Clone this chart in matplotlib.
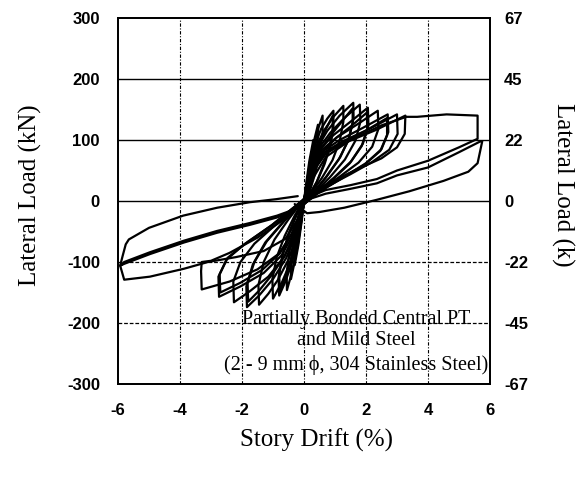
import matplotlib
matplotlib.use("Agg")
import matplotlib.pyplot as plt

plt.rcParams["axes.unicode_minus"] = False

# ===============================
# DATA
# ===============================
drift_ticks = [-6, -4, -2, 0, 2, 4, 6]
load_ticks_kn = [300, 200, 100, 0, -100, -200, -300]
load_labels_kip = ["67", "45", "22", "0", "-22", "-45", "-67"]

# positive half-cycles (the upper fan): drift (%) / load (kN)
pos_drift = [
    [0, 0.08, 0.17, 0.3, 0.28, 0.2, 0.1, 0],
    [0, 0.09, 0.2, 0.32, 0.45, 0.44, 0.37, 0.24, 0.1, 0],
    [0, 0.1, 0.22, 0.35, 0.48, 0.6, 0.6, 0.52, 0.36, 0.18, 0],
    [0, 0.1, 0.24, 0.38, 0.55, 0.75, 0.95, 0.95, 0.86, 0.66, 0.42, 0.17, 0],
    [0, 0.12, 0.28, 0.45, 0.65, 0.93, 0.92, 0.82, 0.62, 0.4, 0.15, 0],
    [0, 0.11, 0.26, 0.42, 0.65, 0.95, 1.27, 1.27, 1.15, 0.92, 0.58, 0.22, 0],
    [0, 0.12, 0.28, 0.46, 0.75, 1.15, 1.59, 1.6, 1.46, 1.17, 0.72, 0.27, 0],
    [0, 0.13, 0.32, 0.55, 0.9, 1.25, 1.57, 1.57, 1.42, 1.12, 0.7, 0.26, 0],
    [0, 0.12, 0.3, 0.5, 0.85, 1.3, 1.8, 1.82, 1.66, 1.32, 0.82, 0.3, 0],
    [0, 0.13, 0.32, 0.54, 0.95, 1.5, 2.06, 2.08, 1.9, 1.52, 0.96, 0.36, 0],
    [0, 0.14, 0.36, 0.62, 1.05, 1.55, 2.03, 2.04, 1.86, 1.48, 0.94, 0.34, 0],
    [0, 0.13, 0.34, 0.58, 1.05, 1.7, 2.38, 2.4, 2.2, 1.76, 1.1, 0.42, 0],
    [0, 0.14, 0.36, 0.62, 1.15, 1.9, 2.7, 2.72, 2.5, 2.0, 1.3, 0.5, 0],
    [0, 0.15, 0.4, 0.7, 1.25, 1.95, 2.68, 2.68, 2.46, 1.96, 1.28, 0.5, 0],
    [0, 0.14, 0.38, 0.66, 1.25, 2.1, 3.0, 3.02, 2.75, 2.2, 1.5, 0.6, 0],
    [0, 0.15, 0.4, 0.7, 1.35, 2.3, 3.27, 3.25, 3.0, 2.5, 1.8, 1.1, 0.5, 0.1, 0],
]
pos_load = [
    [0, 32, 65, 100, 72, 42, 15, -2],
    [0, 30, 65, 98, 125, 98, 65, 32, 8, -2],
    [0, 30, 65, 98, 122, 140, 112, 80, 45, 15, -3],
    [0, 30, 65, 95, 118, 135, 148, 122, 92, 60, 32, 10, -3],
    [0, 28, 60, 88, 112, 140, 115, 88, 58, 30, 8, -3],
    [0, 30, 64, 92, 116, 138, 156, 130, 98, 67, 38, 12, -3],
    [0, 30, 63, 90, 115, 140, 161, 136, 104, 72, 40, 12, -4],
    [0, 28, 60, 86, 110, 132, 152, 128, 98, 68, 38, 11, -4],
    [0, 29, 62, 88, 112, 136, 158, 130, 99, 68, 38, 12, -4],
    [0, 29, 61, 86, 108, 130, 153, 124, 94, 65, 38, 12, -4],
    [0, 27, 58, 82, 104, 124, 145, 118, 90, 62, 36, 11, -4],
    [0, 28, 60, 84, 104, 125, 148, 118, 89, 63, 38, 14, -5],
    [0, 28, 59, 82, 100, 120, 142, 113, 85, 62, 40, 16, -5],
    [0, 26, 56, 78, 96, 114, 136, 108, 82, 60, 39, 15, -5],
    [0, 27, 58, 80, 98, 118, 142, 110, 84, 64, 44, 20, -5],
    [0, 27, 57, 78, 96, 116, 140, 110, 88, 70, 54, 37, 21, 5, -5],
]

# negative half-cycles (the lower fan)
neg_drift = [
    [0, -0.08, -0.18, -0.3, -0.28, -0.2, -0.1, 0],
    [0, -0.08, -0.2, -0.32, -0.42, -0.42, -0.34, -0.2, -0.06, 0],
    [0, -0.08, -0.2, -0.33, -0.45, -0.55, -0.56, -0.47, -0.3, -0.12, 0],
    [0, -0.09, -0.22, -0.38, -0.6, -0.8, -0.82, -0.7, -0.5, -0.25, 0],
    [0, -0.1, -0.25, -0.42, -0.6, -0.78, -0.8, -0.68, -0.48, -0.24, 0],
    [0, -0.09, -0.24, -0.42, -0.7, -1.0, -1.02, -0.88, -0.62, -0.3, 0],
    [0, -0.1, -0.27, -0.5, -0.85, -1.15, -1.45, -1.47, -1.3, -0.95, -0.5, 0],
    [0, -0.1, -0.3, -0.58, -1.0, -1.45, -1.84, -1.86, -1.65, -1.25, -0.65, 0],
    [0, -0.11, -0.33, -0.62, -1.05, -1.45, -1.8, -1.82, -1.6, -1.2, -0.62, 0],
    [0, -0.11, -0.33, -0.65, -1.15, -1.75, -2.26, -2.28, -2.05, -1.6, -0.85, 0],
    [0, -0.12, -0.36, -0.72, -1.3, -2.05, -2.74, -2.76, -2.5, -1.95, -1.05, 0],
    [0, -0.13, -0.4, -0.78, -1.35, -2.05, -2.7, -2.72, -2.46, -1.9, -1.02, 0],
    [0, -0.13, -0.4, -0.8, -1.5, -2.4, -3.3, -3.32, -3.3, -3.0, -2.4, -1.5, -0.7, 0],
]
neg_load = [
    [0, -35, -72, -105, -78, -45, -18, 3],
    [0, -32, -72, -104, -128, -100, -66, -32, -8, 3],
    [0, -30, -70, -102, -128, -146, -118, -82, -45, -14, 3],
    [0, -28, -66, -100, -132, -155, -125, -90, -55, -24, 3],
    [0, -27, -62, -95, -125, -148, -120, -86, -52, -22, 3],
    [0, -27, -64, -98, -132, -160, -128, -92, -57, -24, 3],
    [0, -26, -62, -96, -130, -152, -170, -138, -100, -63, -30, 3],
    [0, -25, -60, -94, -128, -155, -174, -140, -104, -68, -33, 3],
    [0, -25, -58, -90, -122, -147, -165, -134, -100, -66, -32, 3],
    [0, -24, -58, -92, -124, -148, -166, -132, -100, -70, -36, 3],
    [0, -23, -56, -89, -118, -140, -157, -124, -96, -72, -40, 3],
    [0, -22, -54, -86, -113, -134, -150, -120, -93, -70, -39, 3],
    [0, -22, -54, -86, -112, -132, -145, -115, -100, -98, -85, -60, -32, 3],
]

# first +/-6 % cycle
big1_drift = [0, 0.2, 0.7, 1.5, 2.5, 3.3, 3.65, 4.6, 5.6, 5.6, 5.0, 4.0, 3.0, 2.35, 1.5, 0.7, 0.1, 0,
              -0.2, -0.6, -1.3, -2.2, -3.1, -3.87, -4.97, -5.8, -5.93, -5.85, -5.75, -5.65,
              -5.0, -3.9, -2.8, -1.75, -0.9, -0.2]
big1_load = [0, 30, 72, 100, 124, 138, 138, 142, 140, 102, 88, 66, 50, 36, 26, 18, 5, 0,
             -30, -62, -82, -92, -100, -111, -124, -129, -106, -90, -71, -63,
             -44, -24, -11, -2, 3, 8]

# second +/-6 % cycle
big2_drift = [-0.3, 0.1, 0.5, 1.3, 2.35, 3.4, 4.5, 5.3, 5.6, 5.75, 5.7, 5.0, 4.0, 3.0, 2.35, 1.5, 0.7, 0.1, 0,
              -0.3, -0.87, -1.74, -2.8, -3.87, -4.97, -5.8, -5.93,
              -5.8, -4.97, -3.87, -2.8, -1.74, -0.87, 0]
big2_load = [-5, -20, -18, -11, 2, 16, 33, 48, 62, 98, 98, 80, 55, 42, 29, 20, 12, 2, 0,
             -15, -27, -39, -52, -68, -87, -103, -106,
             -100, -84, -65, -49, -36, -24, -8]

note_lines = ["Partially Bonded Central PT", "and Mild Steel", "(2 - 9 mm \u03d5, 304 Stainless Steel)"]
note_y = [-195, -228, -269]

# ===============================
# FIGURE
# ===============================
fig = plt.figure(figsize=(5.85, 4.79), dpi=100)
ax = fig.add_axes([0.2017, 0.1983, 0.6359, 0.7641])
ax.set_xlim(-6, 6)
ax.set_ylim(-300, 300)

# grid: horizontal lines mostly solid, vertical ones dash-dot
for v in load_ticks_kn[1:-1]:
    if v >= 0:
        ax.axhline(v, color="black", lw=1.0, zorder=1)
    else:
        ax.axhline(v, color="black", lw=0.9, ls=(0, (3, 1.5)), zorder=1)
for v in drift_ticks[1:-1]:
    ax.axvline(v, color="black", lw=0.8, ls=(0, (3, 1.5, 1, 1.5)), zorder=1)

line_kw = dict(color="black", lw=1.6, solid_joinstyle="round", solid_capstyle="round", zorder=3)
for dx, ld in zip(pos_drift, pos_load):
    ax.plot(dx, ld, **line_kw)
for dx, ld in zip(neg_drift, neg_load):
    ax.plot(dx, ld, **line_kw)
ax.plot(big1_drift, big1_load, **line_kw)
ax.plot(big2_drift, big2_load, **line_kw)

serif = "Liberation Serif"
for txt, yy in zip(note_lines, note_y):
    ax.text(1.68, yy, txt, ha="center", va="center", family=serif, fontsize=14.5)

ax.set_xticks(drift_ticks)
ax.set_yticks(load_ticks_kn)
ax.tick_params(axis="both", length=0, labelsize=12)
ax.tick_params(axis="y", pad=13)
ax.tick_params(axis="x", pad=14)
for lab in ax.get_xticklabels() + ax.get_yticklabels():
    lab.set_fontfamily("Liberation Sans")
    lab.set_fontweight("bold")

ax2 = ax.twinx()
ax2.set_ylim(-300, 300)
ax2.set_yticks(load_ticks_kn)
ax2.set_yticklabels(load_labels_kip)
ax2.tick_params(axis="y", length=0, labelsize=12, pad=10)
for lab in ax2.get_yticklabels():
    lab.set_fontfamily("Liberation Sans")
    lab.set_fontweight("bold")

for a in (ax, ax2):
    for s in a.spines.values():
        s.set_linewidth(1.3)

fig.text(30 / 585, 1 - 195 / 479, "Lateral Load (kN)", rotation=90, ha="center", va="center",
         family=serif, fontsize=18)
fig.text(563 / 585, 1 - 185 / 479, "Lateral Load (k)", rotation=270, ha="center", va="center",
         family=serif, fontsize=18)
fig.text(316 / 585, 1 - 440 / 479, "Story Drift (%)", ha="center", va="center",
         family=serif, fontsize=18)

fig.savefig("out.png", dpi=100)
